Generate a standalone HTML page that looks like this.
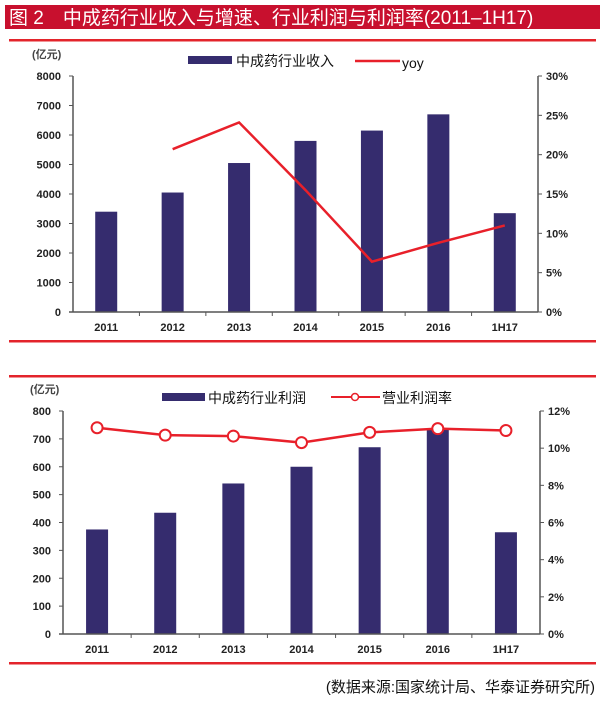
<!DOCTYPE html>
<html><head><meta charset="utf-8"><style>
body{margin:0;background:#fff;width:600px;height:698px;overflow:hidden;font-family:"Liberation Sans","Noto Sans CJK SC",sans-serif}
svg text{font-family:"Liberation Sans","Noto Sans CJK SC",sans-serif}
</style></head><body>
<svg width="600" height="698" xmlns="http://www.w3.org/2000/svg" id="svg">
<rect x="5" y="5" width="595" height="24" fill="#c8102e"/>
<text x="9" y="24" font-size="19" fill="#fff">图 2　中成药行业收入与增速、行业利润与利润率(2011–1H17)</text>
<rect x="9" y="39" width="587" height="2.5" fill="#e3242b"/>
<rect x="9" y="340" width="587" height="2.5" fill="#e3242b"/>
<rect x="9" y="375" width="587" height="2.5" fill="#e3242b"/>
<rect x="9" y="662" width="587" height="2.5" fill="#e3242b"/>
<text x="595" y="692" font-size="15" text-anchor="end" font-family="Noto Serif CJK SC, serif" fill="#111">(数据来源:国家统计局、华泰证券研究所)</text>
<g id="c1"></g><g id="c2"></g>
</svg>
<script>
const cats = ["2011","2012","2013","2014","2015","2016","1H17"];
const revenue = [3400,4050,5050,5800,6150,6700,3350];
const yoy = [null,20.7,24.1,15.5,6.4,8.8,11.0];
const revTicks = [0,1000,2000,3000,4000,5000,6000,7000,8000];
const yoyTicks = [0,5,10,15,20,25,30];
const profit = [375,435,540,600,670,735,365];
const margin = [11.1,10.7,10.65,10.3,10.85,11.05,10.95];
const profTicks = [0,100,200,300,400,500,600,700,800];
const marginTicks = [0,2,4,6,8,10,12];

const NS="http://www.w3.org/2000/svg";
function mk(parent,tag,attrs,txt){const e=document.createElementNS(NS,tag);for(const k in attrs)e.setAttribute(k,attrs[k]);if(txt!==undefined)e.textContent=txt;parent.appendChild(e);return e;}

function drawChart(g,cfg){
  const {x0,x1,yTop,yBot,lMax,rMax,lTicks,rTicks,bars,line,markers,rFmt}=cfg;
  const bw=(x1-x0)/cats.length;
  const X=i=>x0+bw*(i+0.5);
  const YL=v=>yBot-(v/lMax)*(yBot-yTop);
  const YR=v=>yBot-(v/rMax)*(yBot-yTop);
  let e;
  bars.forEach((v,i)=>{
    e=mk(g,'rect',{x:X(i)-11,y:YL(v),width:22,height:yBot-YL(v),fill:'#352c6e'});
    
    
  });
  e=mk(g,'line',{x1:x0,y1:yTop,x2:x0,y2:yBot,stroke:'#555','stroke-width':1.5});
  
  e=mk(g,'line',{x1:x1,y1:yTop,x2:x1,y2:yBot,stroke:'#555','stroke-width':1.5});
  
  e=mk(g,'line',{x1:x0-4,y1:yBot,x2:x1,y2:yBot,stroke:'#555','stroke-width':1.5});
  
  lTicks.forEach(t=>{
    mk(g,'line',{x1:x0-4,y1:YL(t),x2:x0,y2:YL(t),stroke:'#555'});
    e=mk(g,'text',{x:x0-12,y:YL(t)+4,'font-size':11,'font-weight':'bold','text-anchor':'end',fill:'#222'},String(t));
    
  });
  rTicks.forEach(t=>{
    mk(g,'line',{x1:x1,y1:YR(t),x2:x1+4,y2:YR(t),stroke:'#555'});
    e=mk(g,'text',{x:x1+8,y:YR(t)+4,'font-size':11,'font-weight':'bold',fill:'#222'},t+'%');
    
  });
  cats.forEach((c,i)=>{
    if(i>0) mk(g,'line',{x1:x0+bw*i,y1:yBot,x2:x0+bw*i,y2:yBot+4,stroke:'#555'});
    e=mk(g,'text',{x:X(i),y:yBot+19,'font-size':11,'font-weight':'bold','text-anchor':'middle',fill:'#222'},c);
    
  });
  const pts=line.map((v,i)=>v==null?null:[X(i),YR(v)]).filter(p=>p);
  e=mk(g,'polyline',{points:pts.map(p=>p.join(',')).join(' '),fill:'none',stroke:'#e8202a','stroke-width':2.5});
  
  if(markers) pts.forEach(p=>{
    e=mk(g,'circle',{cx:p[0],cy:p[1],r:5.5,fill:'#fff',stroke:'#e8202a','stroke-width':2});
    
  });
}
const g1=document.getElementById('c1'),g2=document.getElementById('c2');
drawChart(g1,{x0:73,x1:538,yTop:76,yBot:312,lMax:8000,rMax:30,lTicks:revTicks,rTicks:yoyTicks,bars:revenue,line:yoy,markers:false});
drawChart(g2,{x0:63,x1:540,yTop:411,yBot:634,lMax:800,rMax:12,lTicks:profTicks,rTicks:marginTicks,bars:profit,line:margin,markers:true});
let e;
e=mk(g1,'text',{x:32,y:58,'font-size':11,'font-weight':'bold',fill:'#444'},'(亿元)');

e=mk(g1,'rect',{x:188,y:56,width:44,height:8,fill:'#352c6e'});

e=mk(g1,'text',{x:236,y:66,'font-size':14,fill:'#111'},'中成药行业收入');

e=mk(g1,'line',{x1:355,y1:61,x2:400,y2:61,stroke:'#e8202a','stroke-width':2.5});

e=mk(g1,'text',{x:402,y:68,'font-size':14,fill:'#111'},'yoy');

e=mk(g2,'text',{x:30,y:393,'font-size':11,'font-weight':'bold',fill:'#444'},'(亿元)');

e=mk(g2,'rect',{x:162,y:393,width:43,height:8,fill:'#352c6e'});

e=mk(g2,'text',{x:208,y:403,'font-size':14,fill:'#111'},'中成药行业利润');

e=mk(g2,'line',{x1:331,y1:397,x2:380,y2:397,stroke:'#e8202a','stroke-width':2});

e=mk(g2,'circle',{cx:355,cy:397,r:3.5,fill:'#fff',stroke:'#e8202a','stroke-width':1.5});

e=mk(g2,'text',{x:382,y:403,'font-size':14,fill:'#111'},'营业利润率');

</script>
</body></html>
